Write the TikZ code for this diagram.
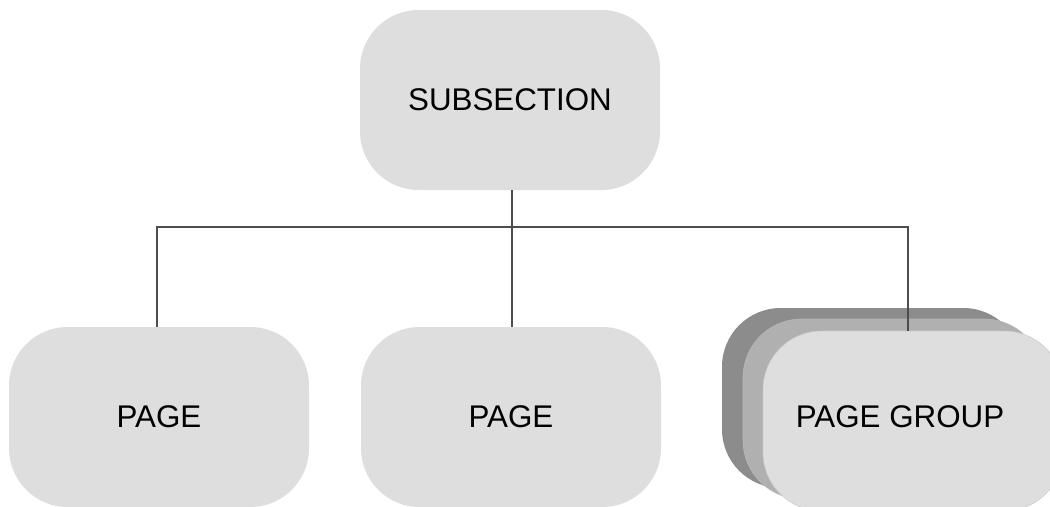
\documentclass[tikz,border=0pt]{standalone}
\usepackage{fontspec}
\setmainfont{Liberation Sans}
\definecolor{boxfill}{HTML}{DEDEDE}
\definecolor{midfill}{HTML}{B0B0B0}
\definecolor{backfill}{HTML}{8C8C8C}
\definecolor{linec}{HTML}{4D4D4D}
\tikzset{
  card/.style={rounded corners=44pt, minimum width=225pt, minimum height=135pt, inner sep=0pt, fill=boxfill, font=\fontsize{23.5}{28}\selectfont},
  wire/.style={draw=linec, line width=1.1pt}
}
\begin{document}
\begin{tikzpicture}[x=0.75pt,y=-0.75pt]
\useasboundingbox (0,0) rectangle (1050,507);
\clip (0,0) rectangle (1050,507);
\node[card] (sub) at (510,100) {SUBSECTION};
\node[card] (p1) at (159,417) {PAGE};
\node[card] (p2) at (511,417) {PAGE};
\node[card, fill=backfill] (pgback) at (872,398) {};
\node[card, fill=midfill, draw=gray!55, line width=0.4pt] (pgmid) at (893,409) {};
\node[card, draw=gray!40, line width=0.4pt] (pg) at (913,421) {};
\node[font=\fontsize{23.5}{28}\selectfont, inner sep=0pt] (pgtext) at (900,417) {PAGE GROUP};
\coordinate (bus) at (512,227);
\coordinate (b1) at (157,227);
\coordinate (b3) at (908,227);
\draw[wire] (sub.south -| bus) -- (bus);
\draw[wire] (bus) -- (bus |- p2.north);
\draw[wire] (b1 |- p1.north) -- (b1) -- (b3) -- (b3 |- pg.north);
\end{tikzpicture}
\end{document}
